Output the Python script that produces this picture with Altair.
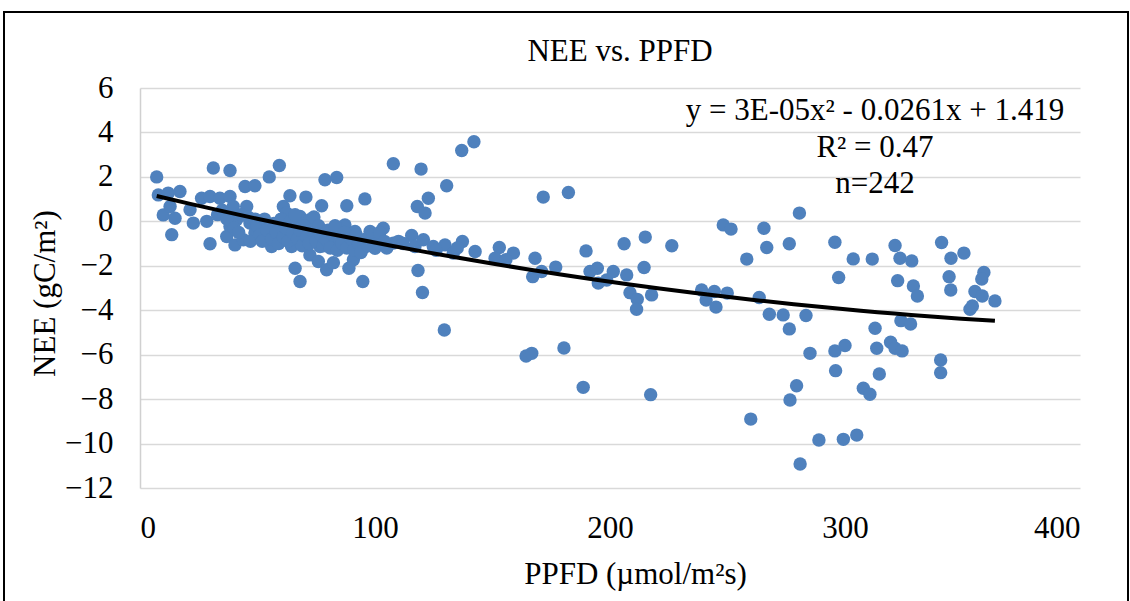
import altair as alt
import pandas as pd

# PPFD (x) and NEE (y)
ppfd = [
    7.1, 7.8, 12.0, 17.0, 9.9, 14.9, 13.5, 12.8, 21.3, 22.7,
    26.2, 29.8, 34.0, 28.4, 31.2, 38.3, 29.8, 38.3, 39.7, 38.3,
    36.9, 40.4, 41.1, 44.7, 48.9, 45.4, 46.8, 44.0, 48.9, 55.0,
    59.3, 52.5, 55.3, 56.0, 61.0, 63.8, 62.4, 59.6, 64.5, 70.6,
    68.1, 72.3, 66.7, 72.3, 66.0, 68.1, 77.3, 75.2, 76.6, 78.7,
    83.7, 75.9, 79.4, 82.3, 88.0, 87.2, 83.7, 91.5, 89.4, 90.8,
    88.9, 94.8, 95.7, 97.9, 103.5, 100.0, 95.0, 107.8, 107.8,
    115.6, 117.0, 120.6, 124.8, 129.8, 118.0, 122.7, 121.3, 119.6, 130.5,
    118.3, 120.2, 129.5, 136.9, 142.1, 137.2, 133.3, 142.6, 152.9, 151.1,
    158.9, 155.7, 168.1, 167.1, 170.9, 176.9, 171.6, 182.3, 189.8, 191.5,
    194.6, 195.0, 198.6, 201.4, 207.1, 206.0, 215.0, 226.3, 214.5, 208.5,
    211.6, 217.7, 211.3, 239.0, 240.9, 244.4, 249.9, 245.1, 248.2, 251.5,
    164.3, 166.7, 180.4, 188.6, 217.3,
    280.6, 265.5, 266.7, 276.3, 258.2, 295.7, 303.5, 311.6, 297.3, 321.3,
    323.4, 328.4, 322.4, 329.1, 330.8, 341.1, 345.1, 350.6, 344.3, 345.0,
    359.1, 358.2, 355.3, 358.4, 363.8, 353.2, 354.2, 263.5, 267.8, 273.7,
    283.4, 276.3, 285.1, 295.7, 300.0, 296.0, 312.8, 313.5, 314.6, 319.4,
    321.3, 324.3, 323.8, 327.9, 340.7, 340.7, 279.4, 276.6, 259.9, 288.9,
    299.3, 305.0, 280.9, 307.8, 310.6,
    33, 35, 37, 40, 42, 43, 46, 47, 49, 50,
    51, 52, 53, 54, 56, 57, 58, 59, 60, 61,
    62, 63, 64, 65, 66, 67, 68, 69, 70, 71,
    72, 73, 74, 75, 76, 77, 78, 79, 80, 81,
    82, 83, 84, 85, 86, 87, 88, 90, 91, 92,
    93, 94, 96, 97, 99, 101, 102, 104, 105, 110,
    112, 126, 135,
]
nee = [
    2.0, 1.19, 1.27, 1.34, 0.29, 0.14, -0.6, 0.67, 0.52, -0.08,
    1.04, 1.12, 1.04, 0.0, 2.4, 2.29, -1.01, 1.12, 0.67, -0.23,
    -0.68, -1.06, 0.07, 1.57, 1.6, 0.67, -0.08, -0.83, -0.53, 2.0,
    2.51, -0.31, -0.68, -1.13, 0.67, 1.15, 0.37, -0.23, -1.13, 1.09,
    0.22, 0.07, -0.23, -1.51, -2.11, -2.71, 0.7, -0.53, -1.13, 1.87,
    1.97, -1.81, -2.18, -1.86, 0.7, -0.16, -0.98, -0.46, -1.13, -1.73,
    -2.11, -2.71, 1.01, -0.46, -0.31, -1.21, -1.21, -0.98, 2.59,
    -0.64, -1.13, -0.83, -1.13, -1.06, 0.67, 1.04, 0.37, 2.35, 1.6,
    -2.21, -3.2, -4.89, 3.19, 3.58, -0.91, -1.43, -1.36, -1.18, -1.66,
    -1.43, -1.73, -1.66, -2.49, -2.26, -2.06, 1.09, 1.3, -1.33, -2.26,
    -2.11, -2.78, -2.64, -2.26, -2.41, -1.01, -0.71, -1.1, -2.08, -3.21,
    -3.51, -3.31, -3.96, -3.09, -3.54, -3.16, -3.23, -3.86, -0.16, -0.35,
    -6.06, -5.94, -5.7, -7.47, -7.8,
    0.37, -0.31, -1.18, -1.01, -1.7, -0.94, -1.69, -1.7, -2.53, -1.09,
    -1.66, -1.78, -2.67, -2.91, -3.36, -0.95, -1.66, -1.43, -2.49, -3.09,
    -2.3, -2.6, -3.16, -3.36, -3.58, -3.96, -3.81, -3.43, -4.18, -4.21,
    -4.24, -4.84, -5.94, -5.83, -5.59, -6.72, -4.81, -5.71, -6.87, -5.44,
    -5.71, -5.83, -4.47, -4.62, -6.24, -6.81, -7.4, -8.04, -8.9, -9.84,
    -9.81, -9.62, -10.92, -7.51, -7.78,
    0.3, 0.5, 0.1, -0.3, -0.5, 0.3, 0.2, -0.9, 0.1, -0.2,
    -0.6, -0.9, 0.1, -0.4, -0.8, -0.1, -0.5, -1.0, 0.1, -0.7,
    -0.3, -0.9, 0.0, -0.5, 0.3, -0.8, -0.4, -1.1, -0.2, -0.7,
    -1.0, -0.4, 0.2, -0.9, -0.2, -0.6, -1.1, -0.8, -0.4, -1.2,
    -0.6, -0.2, -1.3, -0.8, -1.0, -0.5, -1.2, -0.8, -1.3, -0.6,
    -1.0, -1.4, -0.8, -1.1, -0.6, -1.0, -0.5, -0.9, -1.2, -0.9,
    -1.0, -1.3, -1.2,
]

x_ticks = [0, 100, 200, 300, 400]
y_ticks = [-12, -10, -8, -6, -4, -2, 0, 2, 4, 6]
title_text = "NEE vs. PPFD"
x_title = "PPFD (µmol/m²s)"
y_title = "NEE (gC/m²)"
eq_lines = ["y = 3E-05x² - 0.0261x + 1.419", "R² = 0.47", "n=242"]

FONT = "'Liberation Serif', 'Times New Roman', Times, serif"
FS = 31

df = pd.DataFrame({"PPFD": ppfd, "NEE": nee})
one = alt.Data(values=[{}])

frame = alt.Chart(one).mark_rect(fillOpacity=0, stroke="black", strokeWidth=2).encode(
    x=alt.value(-136), x2=alt.value(988), y=alt.value(-76), y2=alt.value(530)
)

points = alt.Chart(df).mark_circle(size=180, color="#4F81BD", opacity=1).encode(
    x=alt.X("PPFD:Q", scale=alt.Scale(domain=[0, 400], nice=False),
            axis=alt.Axis(values=x_ticks, title=x_title, grid=False, domain=False,
                          ticks=False, tickSize=0, labelPadding=25, titlePadding=16,
                          titleX=495)),
    y=alt.Y("NEE:Q", scale=alt.Scale(domain=[-12, 6], nice=False),
            axis=alt.Axis(values=y_ticks, title=y_title, grid=True, domain=True,
                          ticks=False, tickSize=0, labelPadding=27, titlePadding=3,
                          titleY=205)),
)

trend = alt.Chart(df).transform_regression(
    "PPFD", "NEE", method="poly", order=2
).mark_line(color="black", strokeWidth=4).encode(x="PPFD:Q", y="NEE:Q")

title_mark = alt.Chart(one).mark_text(
    text=title_text, font=FONT, fontSize=FS, align="center",
    baseline="alphabetic", color="black"
).encode(x=alt.value(480), y=alt.value(-27))

eq_y = [32, 69, 105]
texts = [
    alt.Chart(one).mark_text(text=t, font=FONT, fontSize=FS, align="center",
                             baseline="alphabetic", color="black").encode(
        x=alt.value(735), y=alt.value(yy))
    for t, yy in zip(eq_lines, eq_y)
]

chart = alt.layer(frame, points, trend, title_mark, *texts).properties(
    width=940, height=400,
    padding={"left": 140, "top": 88, "right": 50, "bottom": 113},
    autosize=alt.AutoSizeParams(type="none"),
).configure(background="white").configure_view(stroke=None).configure_axis(
    labelFont=FONT, labelFontSize=FS, labelColor="black",
    titleFont=FONT, titleFontSize=FS, titleFontWeight="normal", titleColor="black",
    gridColor="#d9d9d9", gridWidth=1.5, domainColor="#d0d0d0", domainWidth=1.5,
)

chart.save("out.html", embed_options={"renderer": "svg", "actions": False})
